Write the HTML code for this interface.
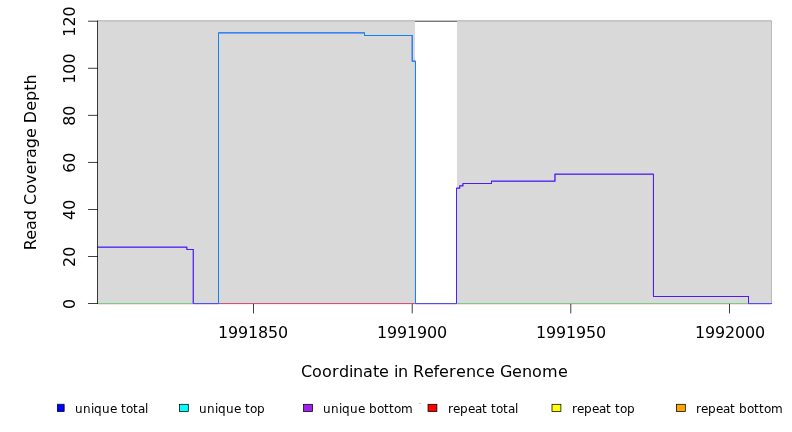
<!DOCTYPE html>
<html><head><meta charset="utf-8"><title>Read Coverage Depth</title>
<style>html,body{margin:0;padding:0;background:#fff}svg{display:block;will-change:transform}text{font-family:'DejaVu Sans','Liberation Sans',sans-serif;fill:#000}</style></head>
<body>
<svg width="792" height="432" viewBox="0 0 792 432">
<rect x="0" y="0" width="792" height="432" fill="#fff"/>
<rect x="97.125" y="20.775" width="674.375" height="0.750" fill="#000"/>
<rect x="771.125" y="21.150" width="0.750" height="282.725" fill="#000"/>
<rect x="97.500" y="21.150" width="317.500" height="282.350" fill="#d9d9d9"/>
<rect x="457.000" y="21.150" width="314.800" height="282.350" fill="#d9d9d9"/>
<rect x="98.00" y="303" width="95.21" height="1" fill="#78cc88"/>
<rect x="98.00" y="304" width="95.21" height="1" fill="#ffdede"/>
<rect x="193.21" y="303" width="25.39" height="1" fill="#5050f5"/>
<rect x="193.21" y="304" width="25.39" height="1" fill="#f0d0e8"/>
<rect x="218.59" y="303" width="196.75" height="1" fill="#cc5580"/>
<rect x="218.59" y="304" width="196.75" height="1" fill="#ffe8e8"/>
<rect x="415.34" y="303" width="41.25" height="1" fill="#5050f5"/>
<rect x="415.34" y="304" width="41.25" height="1" fill="#f0d0e8"/>
<rect x="456.59" y="303" width="291.95" height="1" fill="#78cc88"/>
<rect x="456.59" y="304" width="291.95" height="1" fill="#ffdede"/>
<rect x="748.54" y="303" width="22.46" height="1" fill="#5050f5"/>
<rect x="748.54" y="304" width="22.46" height="1" fill="#f0d0e8"/>
<rect x="771" y="303" width="1" height="1" fill="#8c3c90"/>
<path d="M97.53 246.66H187.24V247.41H97.53ZM186.49 246.66H187.24V249.76H186.49ZM186.49 249.01H193.58V249.76H186.49ZM192.83 249.01H193.58V303.38H192.83Z" fill="#0000ff"/>
<path d="M97.53 246.66H187.24V247.41H97.53ZM186.49 246.66H187.24V249.76H186.49ZM186.49 249.01H193.58V249.76H186.49ZM192.83 249.01H193.58V303.38H192.83Z" fill="#6010f5"/>
<path d="M456.22 187.83H456.97V303.38H456.22ZM456.22 187.83H460.14V188.58H456.22ZM459.39 185.48H460.14V188.58H459.39ZM459.39 185.48H463.31V186.23H459.39ZM462.56 183.13H463.31V186.23H462.56ZM462.56 183.13H491.88V183.88H462.56ZM491.12 180.77H491.88V183.88H491.12ZM491.12 180.77H555.34V181.52H491.12ZM554.59 173.71H555.34V181.52H554.59ZM554.59 173.71H653.71V174.46H554.59ZM652.96 173.71H653.71V296.82H652.96ZM652.96 296.07H748.91V296.82H652.96ZM748.16 296.07H748.91V303.38H748.16Z" fill="#0000ff"/>
<path d="M456.22 187.83H456.97V303.38H456.22ZM456.22 187.83H460.14V188.58H456.22ZM459.39 185.48H460.14V188.58H459.39ZM459.39 185.48H463.31V186.23H459.39ZM462.56 183.13H463.31V186.23H462.56ZM462.56 183.13H491.88V183.88H462.56ZM491.12 180.77H491.88V183.88H491.12ZM491.12 180.77H555.34V181.52H491.12ZM554.59 173.71H555.34V181.52H554.59ZM554.59 173.71H653.71V174.46H554.59ZM652.96 173.71H653.71V296.82H652.96ZM652.96 296.07H748.91V296.82H652.96ZM748.16 296.07H748.91V303.38H748.16Z" fill="#6010f5"/>
<path d="M218.22 32.54H218.97V303.38H218.22ZM218.22 32.54H364.94V33.29H218.22ZM364.19 32.54H364.94V35.64H364.19ZM364.19 34.89H412.54V35.64H364.19ZM411.79 34.89H412.54V61.52H411.79ZM411.79 60.77H415.72V61.52H411.79ZM414.97 60.77H415.72V303.38H414.97Z" fill="#0000ff"/>
<path d="M218.22 32.54H218.97V303.38H218.22ZM218.22 32.54H364.94V33.29H218.22ZM364.19 32.54H364.94V35.64H364.19ZM364.19 34.89H412.54V35.64H364.19ZM411.79 34.89H412.54V61.52H411.79ZM411.79 60.77H415.72V61.52H411.79ZM414.97 60.77H415.72V303.38H414.97Z" fill="#009ef9"/>
<rect x="97.125" y="20.775" width="0.750" height="283.100" fill="#000"/>
<rect x="87.950" y="303.125" width="9.925" height="0.750" fill="#000"/>
<rect x="87.950" y="256.067" width="9.925" height="0.750" fill="#000"/>
<rect x="87.950" y="209.008" width="9.925" height="0.750" fill="#000"/>
<rect x="87.950" y="161.950" width="9.925" height="0.750" fill="#000"/>
<rect x="87.950" y="114.892" width="9.925" height="0.750" fill="#000"/>
<rect x="87.950" y="67.833" width="9.925" height="0.750" fill="#000"/>
<rect x="87.950" y="20.775" width="9.925" height="0.750" fill="#000"/>
<rect x="253.125" y="303.875" width="0.750" height="9.550" fill="#000"/>
<rect x="411.792" y="303.875" width="0.750" height="9.550" fill="#000"/>
<rect x="570.458" y="303.875" width="0.750" height="9.550" fill="#000"/>
<rect x="729.125" y="303.875" width="0.750" height="9.550" fill="#000"/>
<text x="218" y="338.0" font-size="15.9" textLength="70" lengthAdjust="spacing">1991850</text>
<text x="377" y="338.0" font-size="15.9" textLength="70" lengthAdjust="spacing">1991900</text>
<text x="536" y="338.0" font-size="15.9" textLength="70" lengthAdjust="spacing">1991950</text>
<text x="695" y="338.0" font-size="15.9" textLength="70" lengthAdjust="spacing">1992000</text>
<text transform="translate(74.6 303.90) rotate(-90)" font-size="15.9" text-anchor="middle">0</text>
<text transform="translate(74.6 256.84) rotate(-90)" font-size="15.9" text-anchor="middle">20</text>
<text transform="translate(74.6 209.78) rotate(-90)" font-size="15.9" text-anchor="middle">40</text>
<text transform="translate(74.6 162.72) rotate(-90)" font-size="15.9" text-anchor="middle">60</text>
<text transform="translate(74.6 115.67) rotate(-90)" font-size="15.9" text-anchor="middle">80</text>
<text transform="translate(74.6 68.61) rotate(-90)" font-size="15.9" text-anchor="middle">100</text>
<text transform="translate(74.6 21.55) rotate(-90)" font-size="15.9" text-anchor="middle">120</text>
<text x="301 312 322 332 339 349 353 363 373 379 389 394 398 408 413 424 433.5 439 449 456 466 476 485 495 500 512 522 532 542 558" y="376.6" font-size="16">Coordinate in Reference Genome</text>
<text transform="translate(35.9 162.35) rotate(-90)" font-size="16" text-anchor="middle">Read Coverage Depth</text>
<rect x="57.0" y="404.3" width="7.2" height="7.2" fill="#0000ff"/>
<path d="M57.0 404.3 L64.2 404.3 L64.2 411.5 L57.0 411.5" fill="none" stroke="#000" stroke-width="0.75"/>
<text x="75 83 91 94 102 110 117 121 126 133 138 145" y="412.5" font-size="12">unique total</text>
<rect x="179.40" y="404.3" width="8.9" height="7.2" fill="#00ffff" stroke="#000" stroke-width="0.75"/>
<text x="199 207 215 218 226 234 241 245 250 257" y="412.5" font-size="12">unique top</text>
<rect x="303.60" y="404.3" width="8.9" height="7.2" fill="#a020f0" stroke="#000" stroke-width="0.75"/>
<text x="323 331 339 342 350 358 365 369 377 384 389 394 401" y="412.5" font-size="12">unique bottom</text>
<rect x="428.00" y="404.3" width="8.9" height="7.2" fill="#ff0000" stroke="#000" stroke-width="0.75"/>
<text x="448 453 460 468 475 482 487 491 496 503 508 515" y="412.5" font-size="12">repeat total</text>
<rect x="552.00" y="404.3" width="8.9" height="7.2" fill="#ffff00" stroke="#000" stroke-width="0.75"/>
<text x="572 577 584 592 599 606 611 615 620 627" y="412.5" font-size="12">repeat top</text>
<rect x="676.40" y="404.3" width="8.9" height="7.2" fill="#ffa500" stroke="#000" stroke-width="0.75"/>
<text x="696 701 708 716 723 730 735 739 747 754 759 764 771" y="412.5" font-size="12">repeat bottom</text>
<rect x="419" y="403.1" width="2" height="0.8" fill="#c4c4c4"/>
</svg>
</body></html>
